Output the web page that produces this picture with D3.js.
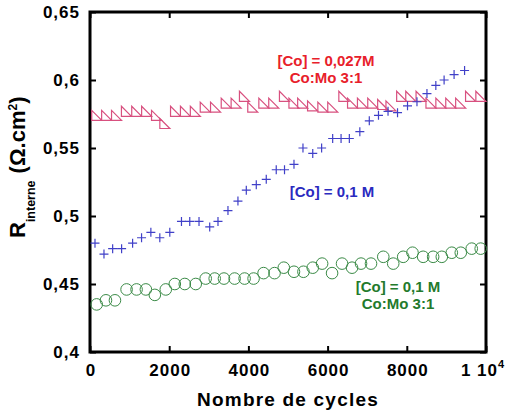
<!DOCTYPE html>
<html>
<head>
<meta charset="utf-8">
<script src="https://cdn.jsdelivr.net/npm/d3@7"></script>
<style>
  body { margin: 0; background: #fff; }
  svg { font-family: "Liberation Sans", Arial, sans-serif; font-weight: bold; }
</style>
</head>
<body>
<svg id="chart" width="508" height="410"></svg>
<script>
// [Co] = 0,027M  Co:Mo 3:1  (triangles)
const cyclesTri = [170, 420, 670, 920, 1180, 1430, 1680, 1890, 2160, 2410, 2660, 2910, 3170, 3440, 3690, 3900, 4110, 4390, 4640, 4910,
  5150, 5370, 5620, 5880, 6130, 6410, 6630, 6880, 7140, 7390, 7600, 7870, 8100, 8360, 8610, 8860, 9110, 9360, 9610, 9870];
const rTri = [0.574, 0.574, 0.574, 0.577, 0.577, 0.577, 0.574, 0.568, 0.577, 0.577, 0.577, 0.580, 0.580, 0.583, 0.583, 0.588, 0.580, 0.583, 0.583, 0.588,
  0.583, 0.583, 0.581, 0.580, 0.580, 0.588, 0.583, 0.583, 0.583, 0.582, 0.581, 0.588, 0.588, 0.588, 0.583, 0.583, 0.583, 0.583, 0.588, 0.588];

// [Co] = 0,1 M  (plus)
const cyclesPlus = [126, 353, 572, 798, 1076, 1302, 1537, 1763, 2015, 2310, 2519, 2753, 3023, 3232, 3484, 3736, 3947, 4199, 4451, 4703,
  4912, 5151, 5378, 5625, 5849, 6128, 6340, 6549, 6814, 7053, 7285, 7526, 7766, 8018, 8257, 8509, 8733, 8942, 9194, 9459];
const rPlus = [0.480, 0.472, 0.476, 0.476, 0.480, 0.484, 0.488, 0.484, 0.488, 0.496, 0.496, 0.496, 0.492, 0.496, 0.504, 0.511, 0.519, 0.523, 0.527, 0.534,
  0.534, 0.538, 0.550, 0.546, 0.550, 0.557, 0.557, 0.557, 0.562, 0.570, 0.574, 0.577, 0.576, 0.581, 0.584, 0.590, 0.596, 0.600, 0.604, 0.607];

// [Co] = 0,1 M  Co:Mo 3:1  (circles)
const cyclesCirc = [169, 403, 630, 924, 1176, 1411, 1637, 1914, 2141, 2393, 2670, 2922, 3149, 3383, 3652, 3904, 4131, 4383, 4660, 4894,
  5151, 5390, 5625, 5861, 6113, 6365, 6617, 6844, 7096, 7406, 7657, 7909, 8144, 8413, 8665, 8884, 9136, 9363, 9640, 9866];
const rCirc = [0.435, 0.438, 0.438, 0.446, 0.446, 0.446, 0.442, 0.446, 0.450, 0.450, 0.450, 0.454, 0.454, 0.454, 0.454, 0.454, 0.454, 0.458, 0.458, 0.462,
  0.459, 0.459, 0.462, 0.465, 0.458, 0.465, 0.462, 0.465, 0.465, 0.470, 0.465, 0.470, 0.473, 0.470, 0.470, 0.470, 0.473, 0.473, 0.476, 0.476];

const xTicks = [0, 2000, 4000, 6000, 8000, 10000];
const yTicks = [0.4, 0.45, 0.5, 0.55, 0.6, 0.65];

const svg = d3.select("#chart");
const mLeft = 90, mRight = 486, mTop = 12, mBottom = 352;

const x = d3.scaleLinear().domain([0, 10000]).range([mLeft, mRight]);
const y = d3.scaleLinear().domain([0.4, 0.65]).range([mBottom, mTop]);

const fr = d3.formatLocale({decimal: ",", thousands: "", grouping: [3], currency: ["", ""]});
const fy = fr.format("~g");

// ticks, all pointing inward
const tickStyle = g => {
  g.select(".domain").remove();
  g.selectAll(".tick line").attr("stroke", "#000").attr("stroke-width", 2);
};

svg.append("g").attr("transform", `translate(0,${mBottom})`)
  .call(d3.axisBottom(x).tickValues(xTicks).tickSize(-6).tickFormat(""))
  .call(tickStyle);
svg.append("g").attr("transform", `translate(0,${mTop})`)
  .call(d3.axisTop(x).tickValues(xTicks).tickSize(-6).tickFormat(""))
  .call(tickStyle);
svg.append("g").attr("transform", `translate(${mLeft},0)`)
  .call(d3.axisLeft(y).tickValues(yTicks).tickSize(-6).tickFormat(""))
  .call(tickStyle);
svg.append("g").attr("transform", `translate(${mRight},0)`)
  .call(d3.axisRight(y).tickValues(yTicks).tickSize(-6).tickFormat(""))
  .call(tickStyle);

// frame
svg.append("rect")
  .attr("x", mLeft).attr("y", mTop)
  .attr("width", mRight - mLeft).attr("height", mBottom - mTop)
  .attr("fill", "none").attr("stroke", "#000").attr("stroke-width", 3);

// tick labels
svg.append("g").selectAll("text").data(yTicks).join("text")
  .attr("x", 80).attr("y", d => y(d)).attr("dy", "0.36em")
  .attr("text-anchor", "end")
  .attr("font-size", 17).attr("letter-spacing", 1)
  .text(d => fy(d));

const xl = svg.append("g").selectAll("text").data(xTicks).join("text")
  .attr("x", d => x(d) + (d === 10000 ? -3 : 1)).attr("y", 376)
  .attr("text-anchor", "middle")
  .attr("font-size", 17).attr("letter-spacing", 1);
xl.filter(d => d !== 10000).text(d => d);
xl.filter(d => d === 10000).each(function () {
  const t = d3.select(this);
  t.append("tspan").text("1 10");
  t.append("tspan").attr("font-size", 11).attr("dy", -8).text("4");
});

// axis titles
svg.append("text")
  .attr("x", 288).attr("y", 406)
  .attr("text-anchor", "middle")
  .attr("font-size", 19).attr("letter-spacing", 1.2)
  .text("Nombre de cycles");

const yt = svg.append("text")
  .attr("transform", "translate(25,238) rotate(-90)");
yt.append("tspan").attr("font-size", 22).text("R");
yt.append("tspan").attr("font-size", 12.5).attr("dy", 10).text("interne");
yt.append("tspan").attr("font-size", 22).attr("dy", -10).attr("dx", 7).text("(Ω.cm");
yt.append("tspan").attr("font-size", 12).attr("dy", -8).text("2");
yt.append("tspan").attr("font-size", 22).attr("dy", 8).text(")");

// series
const triColor = "#d8507f", plusColor = "#4040c8", circColor = "#3a8a46";

svg.append("g").selectAll("path").data(d3.range(cyclesTri.length)).join("path")
  .attr("transform", i => `translate(${x(cyclesTri[i])},${y(rTri[i])})`)
  .attr("d", "M-5,-5L-5,5L5,5Z")
  .attr("fill", "none").attr("stroke", triColor).attr("stroke-width", 1.2);

svg.append("g").selectAll("path").data(d3.range(cyclesPlus.length)).join("path")
  .attr("transform", i => `translate(${x(cyclesPlus[i])},${y(rPlus[i])})`)
  .attr("d", "M-4.5,0H4.5M0,-4.5V4.5")
  .attr("fill", "none").attr("stroke", plusColor).attr("stroke-width", 1.2);

svg.append("g").selectAll("circle").data(d3.range(cyclesCirc.length)).join("circle")
  .attr("cx", i => x(cyclesCirc[i])).attr("cy", i => y(rCirc[i])).attr("r", 5.8)
  .attr("fill", "none").attr("stroke", circColor).attr("stroke-width", 1);

// annotations
const note = (lines, cx, y0, color) => {
  lines.forEach((s, k) => {
    svg.append("text")
      .attr("x", cx).attr("y", y0 + k * 17)
      .attr("text-anchor", "middle")
      .attr("font-size", 15).attr("fill", color)
      .text(s);
  });
};
note(["[Co] = 0,027M", "Co:Mo 3:1"], 326, 66, "#e8202a");
note(["[Co] = 0,1  M"], 332, 197, "#2a2abf");
note(["[Co] = 0,1 M", "Co:Mo 3:1"], 398, 292, "#237a2c");
</script>
</body>
</html>
